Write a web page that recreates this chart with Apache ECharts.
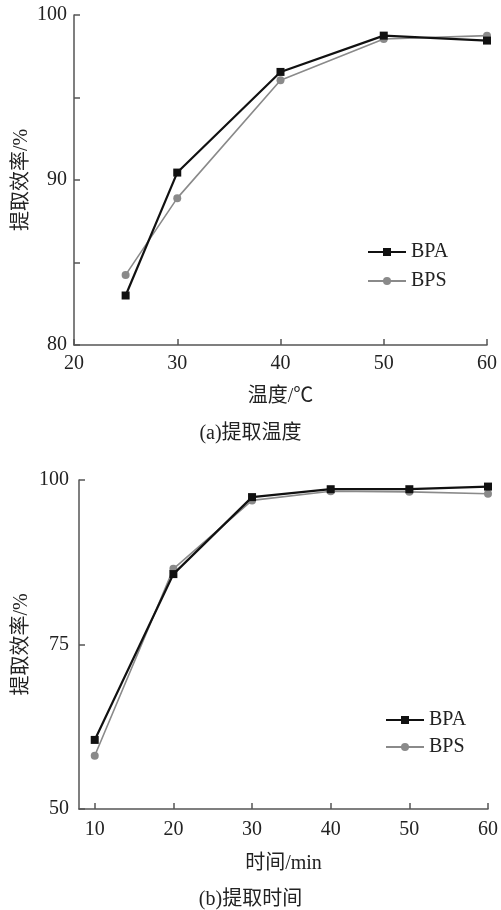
<!DOCTYPE html>
<html>
<head>
<meta charset="utf-8">
<script src="https://cdn.jsdelivr.net/npm/echarts@6/dist/echarts.min.js"></script>
<style>html,body{margin:0;padding:0;background:#fff}#c{width:501px;height:910px}</style>
</head>
<body>
<div id="c"></div>
<script>
// Chart (a): extraction temperature
const tempX = [25, 30, 40, 50, 60];
const tempBPA = [83.0, 90.45, 96.55, 98.75, 98.45];
const tempBPS = [84.25, 88.9, 96.05, 98.55, 98.75];
// Chart (b): extraction time
const timeX = [10, 20, 30, 40, 50, 60];
const timeBPA = [60.5, 85.7, 97.4, 98.6, 98.6, 99.0];
const timeBPS = [58.1, 86.5, 96.9, 98.3, 98.2, 97.9];
const timeTicks = [10, 20, 30, 40, 50, 60];

const FONT = "'Liberation Serif', 'Noto Sans CJK SC', serif";
const axisColor = '#555';
const blk = '#111';
const gry = '#8a8a8a';

function pairs(xs, ys) { return xs.map((x, i) => [x, ys[i]]); }

const chart = echarts.init(document.getElementById('c'), null, {renderer: 'canvas'});
const txt = {fontFamily: FONT, fontSize: 20, color: '#222'};
const axisLine = {show: true, lineStyle: {color: axisColor, width: 1.5}};

chart.setOption({
  animation: false,
  backgroundColor: '#fff',
  grid: [
    {left: 74, right: 14, top: 15, bottom: 565},
    {left: 79, right: 10, top: 480, bottom: 101}
  ],
  xAxis: [
    {gridIndex: 0, type: 'value', min: 20, max: 60, interval: 10,
     axisLine, splitLine: {show: false},
     axisTick: {inside: true, length: 6, lineStyle: {color: axisColor, width: 1.5}},
     axisLabel: Object.assign({margin: 9}, txt),
     name: '温度/℃', nameLocation: 'middle', nameGap: 42, nameTextStyle: Object.assign({}, txt)},
    {gridIndex: 1, type: 'value', min: 8, max: 60,
     axisLine, splitLine: {show: false},
     axisTick: {inside: true, length: 6, customValues: timeTicks, lineStyle: {color: axisColor, width: 1.5}},
     axisLabel: Object.assign({margin: 11, customValues: timeTicks}, txt),
     name: '时间/min', nameLocation: 'middle', nameGap: 45, nameTextStyle: Object.assign({}, txt)}
  ],
  yAxis: [
    {gridIndex: 0, type: 'value', min: 80, max: 100, interval: 5,
     axisLine, splitLine: {show: false},
     axisTick: {inside: true, length: 6, lineStyle: {color: axisColor, width: 1.5}},
     axisLabel: Object.assign({margin: 7, formatter: v => (v % 10 === 0 ? String(v) : '')}, txt),
     name: '提取效率/%', nameLocation: 'middle', nameRotate: 90, nameGap: 42, nameMoveOverlap: false,
     nameTextStyle: Object.assign({}, txt)},
    {gridIndex: 1, type: 'value', min: 50, max: 100, interval: 25,
     axisLine, splitLine: {show: false},
     axisTick: {inside: true, length: 6, lineStyle: {color: axisColor, width: 1.5}},
     axisLabel: Object.assign({margin: 10}, txt),
     name: '提取效率/%', nameLocation: 'middle', nameRotate: 90, nameGap: 47, nameMoveOverlap: false,
     nameTextStyle: Object.assign({}, txt)}
  ],
  legend: [
    {orient: 'vertical', left: 362, top: 237, itemWidth: 38, itemHeight: 10, itemGap: 9,
     textStyle: Object.assign({}, txt), data: ['BPA', 'BPS']},
    {orient: 'vertical', left: 380, top: 705, itemWidth: 38, itemHeight: 10, itemGap: 7,
     textStyle: Object.assign({}, txt), data: ['BPA', 'BPS']}
  ],
  graphic: [
    {type: 'text', left: 'center', top: 424, style: {text: '(a)提取温度', font: "20px " + FONT, fill: '#222'}},
    {type: 'text', left: 'center', top: 890, style: {text: '(b)提取时间', font: "20px " + FONT, fill: '#222'}}
  ],
  series: [
    {name: 'BPA', type: 'line', xAxisIndex: 0, yAxisIndex: 0, data: pairs(tempX, tempBPA),
     symbol: 'rect', symbolSize: 8, lineStyle: {color: blk, width: 2.2}, itemStyle: {color: blk}, z: 3},
    {name: 'BPS', type: 'line', xAxisIndex: 0, yAxisIndex: 0, data: pairs(tempX, tempBPS),
     symbol: 'circle', symbolSize: 8, lineStyle: {color: gry, width: 1.6}, itemStyle: {color: gry}, z: 2},
    {name: 'BPA', type: 'line', xAxisIndex: 1, yAxisIndex: 1, data: pairs(timeX, timeBPA),
     symbol: 'rect', symbolSize: 8, lineStyle: {color: blk, width: 2.2}, itemStyle: {color: blk}, z: 3},
    {name: 'BPS', type: 'line', xAxisIndex: 1, yAxisIndex: 1, data: pairs(timeX, timeBPS),
     symbol: 'circle', symbolSize: 8, lineStyle: {color: gry, width: 1.6}, itemStyle: {color: gry}, z: 2}
  ]
});
</script>
</body>
</html>
